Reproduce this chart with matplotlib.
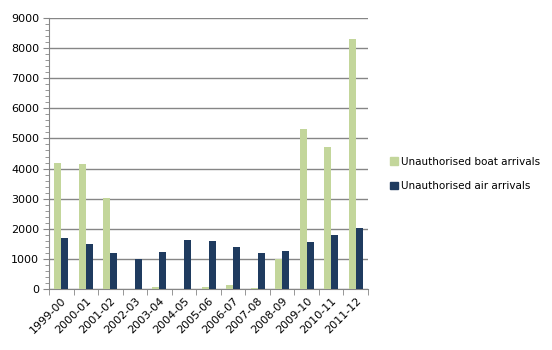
import matplotlib
matplotlib.use('Agg')
import matplotlib.pyplot as plt
import numpy as np
from matplotlib.patches import Patch
from matplotlib.ticker import MultipleLocator

years = ['1999-00', '2000-01', '2001-02', '2002-03', '2003-04', '2004-05', '2005-06',
         '2006-07', '2007-08', '2008-09', '2009-10', '2010-11', '2011-12']
boat_arrivals = [4180, 4137, 3010, 1, 80, 0, 65, 140, 30, 985, 5320, 4720, 8300]
air_arrivals = [1695, 1495, 1196, 997, 1229, 1628, 1595, 1395, 1196, 1262, 1561, 1794, 2027]

boat_color = '#C3D69B'
air_color = '#1F3B5F'
grid_color = '#868686'

fig = plt.figure(figsize=(5.52, 3.5), dpi=100)
ax = fig.add_axes([0.0888, 0.1743, 0.5779, 0.7743])

x = np.arange(len(years))
w = 1 / 3.5
ax.bar(x - w / 2, boat_arrivals, width=w, color=boat_color, zorder=3)
ax.bar(x + w / 2, air_arrivals, width=w, color=air_color, zorder=3)

ax.set_xlim(-0.5, len(years) - 0.5)
ax.set_ylim(0, 9000)
ax.yaxis.set_major_locator(MultipleLocator(1000))
ax.yaxis.set_minor_locator(MultipleLocator(200))
ax.yaxis.grid(True, color=grid_color, linewidth=1, zorder=0)

# category labels centred, tick marks on the boundaries
ax.set_xticks(x)
ax.set_xticklabels(years, rotation=45, ha='right', rotation_mode='anchor', fontsize=8)
ax.set_xticks(np.arange(-0.5, len(years)), minor=True)
ax.tick_params(axis='x', which='major', length=0, pad=5)
ax.tick_params(axis='x', which='minor', length=4, color=grid_color, direction='out')
ax.tick_params(axis='y', which='major', length=4, color=grid_color, labelsize=8, pad=3)
ax.tick_params(axis='y', which='minor', length=3, color=grid_color)

for side in ['top', 'right']:
    ax.spines[side].set_visible(False)
for side in ['left', 'bottom']:
    ax.spines[side].set_color(grid_color)

handles = [Patch(color=boat_color, label='Unauthorised boat arrivals'),
           Patch(color=air_color, label='Unauthorised air arrivals')]
fig.legend(handles=handles, loc='center left', bbox_to_anchor=(0.69, 0.503),
           frameon=False, fontsize=7.5, handlelength=0.7, handleheight=0.7,
           handletextpad=0.35, labelspacing=1.4)

fig.savefig('out.png', dpi=100)
